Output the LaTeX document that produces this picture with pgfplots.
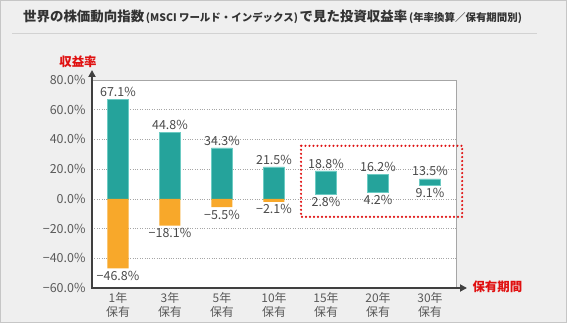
\documentclass[border=0pt]{standalone}
\usepackage{pgfplots}
\pgfplotsset{compat=1.18}
\usetikzlibrary{arrows.meta}
\usepackage{fontspec}
\setmainfont{Noto Sans CJK JP}
\definecolor{tealM}{HTML}{25A39B}
\definecolor{tealE}{HTML}{6CCBC3}
\definecolor{oranM}{HTML}{F8A82A}
\definecolor{redJ}{HTML}{E01010}
\definecolor{txt}{HTML}{5A5A5A}
\definecolor{lbl}{HTML}{4A4A4A}
\definecolor{bg}{HTML}{EFEFEF}
\pgfplotsset{
  common/.style={
    at={(92bp,35bp)}, anchor=south west,
    scale only axis, width=364bp, height=208bp,
    xmin=-0.5, xmax=6.5, ymin=-60, ymax=80, clip=false,
  },
  lbls/.style={draw=none, mark=none, nodes near coords, point meta=explicit symbolic,
    every node near coord/.append style={font=\fontsize{12.5}{13}\selectfont, text=lbl, inner sep=2.5bp}},
}
\begin{document}
\begin{tikzpicture}
\fill[bg] (0,0) rectangle (567bp,323bp);
\draw[gray!45] (0.5bp,0.5bp) rectangle (566.5bp,322.5bp);
\path[use as bounding box] (0,0) rectangle (567bp,323bp);
\node[anchor=west, text=black!80, inner sep=0] at (23bp,306bp)
 {{\fontsize{13.5}{15}\selectfont\bfseries 世界の株価動向指数}{\fontsize{10.5}{12}\selectfont\bfseries\,(MSCI ワールド・インデックス)\,}{\fontsize{13.5}{15}\selectfont\bfseries で見た投資収益率}{\fontsize{10.5}{12}\selectfont\bfseries\,(年率換算／保有期間別)}};
\draw[gray!35, line width=1bp] (12bp,289bp) -- (537bp,289bp);
\begin{axis}[
  common,
  ybar stacked, stack negative=on previous, bar width=21bp,
  xtick={0,...,6},
  xticklabels={{1年\\保有},{3年\\保有},{5年\\保有},{10年\\保有},{15年\\保有},{20年\\保有},{30年\\保有}},
  ytick={-60,-40,-20,0,20,40,60,80},
  yticklabels={−60.0\%,−40.0\%,−20.0\%,0.0\%,20.0\%,40.0\%,60.0\%,80.0\%},
  major tick length=0pt,
  ymajorgrids, grid style={gray!70, dotted, line width=0.7bp},
  axis line style={gray!70, line width=0.7bp},
  axis background/.style={fill=white},
  yticklabel style={font=\fontsize{12.5}{12}\selectfont, text=txt, xshift=-3bp},
  xticklabel style={font=\fontsize{12}{13.5}\selectfont, text=txt, align=center, yshift=-1bp},
]
\addplot[draw=none, fill=none]
  coordinates {(0,-46.8) (1,-18.1) (2,-5.5) (3,-2.1) (4,2.8) (5,4.2) (6,9.1)};
\addplot[draw=none, fill=oranM]
  coordinates {(0,46.8) (1,18.1) (2,5.5) (3,2.1) (4,0) (5,0) (6,0)};
\addplot[draw=tealE, line width=0.6bp, fill=tealM]
  coordinates {(0,67.1) (1,44.8) (2,34.3) (3,21.5) (4,16.0) (5,12.0) (6,4.4)};
\draw[redJ, line width=2.4bp, line cap=round, dash pattern=on 0bp off 4bp]
  (axis cs:3.52,35.7) rectangle (axis cs:6.62,-12.1);
\end{axis}
\begin{axis}[common, hide axis]
\addplot[lbls, every node near coord/.append style={anchor=north}]
  coordinates {(0,-46.8)[−46.8\%] (1,-18.1)[−18.1\%] (2,-5.5)[−5.5\%] (3,-2.1)[−2.1\%] (4,2.8)[2.8\%] (5,4.2)[4.2\%] (6,9.1)[9.1\%]};
\addplot[lbls, every node near coord/.append style={anchor=south}]
  coordinates {(0,67.1)[67.1\%] (1,44.8)[44.8\%] (2,34.3)[34.3\%] (3,21.5)[21.5\%] (4,18.8)[18.8\%] (5,16.2)[16.2\%] (6,13.5)[13.5\%]};
\end{axis}
\draw[black!75, line width=2.2bp, -{Triangle[length=7bp,width=7bp]}] (92bp,34bp) -- (92bp,253bp);
\draw[black!75, line width=2.2bp, -{Triangle[length=7bp,width=7bp]}] (91bp,35bp) -- (467bp,35bp);
\node[text=redJ, font=\fontsize{12.5}{13}\selectfont\bfseries] at (78bp,261bp) {収益率};
\node[text=redJ, font=\fontsize{12.5}{13}\selectfont\bfseries, anchor=west] at (469bp,36bp) {保有期間};
\end{tikzpicture}
\end{document}
